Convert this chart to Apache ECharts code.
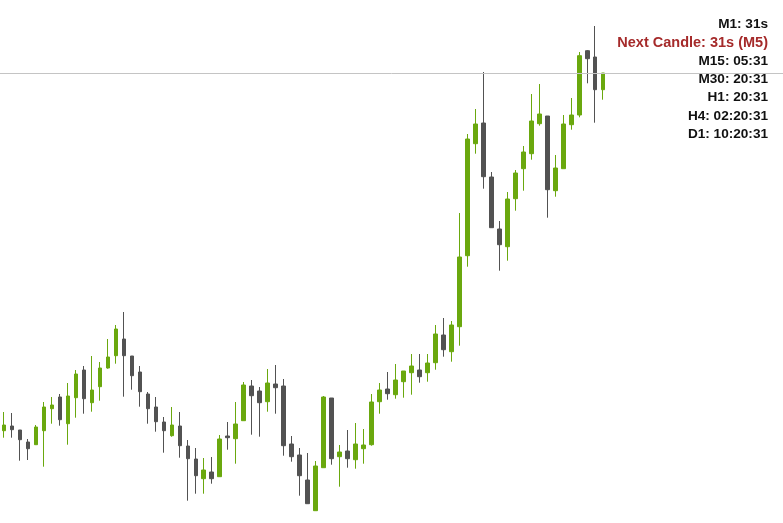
<!DOCTYPE html>
<html>
<head>
<meta charset="utf-8">
<script src="https://cdn.jsdelivr.net/npm/echarts@6/dist/echarts.min.js"></script>
<style>
html,body{margin:0;padding:0;background:#fff;}
#chart{width:783px;height:523px;}
</style>
</head>
<body>
<div id="chart"></div>
<script>
// OHLC values (price units)
const opens  = [92.3,97,93,81,78.3,92.3,114.3,126,99.3,125.3,153,120.3,136.3,155,167.3,184,167,151,129,116,101,87.3,97,77,64,44.3,51,46.3,87,84.3,102.3,137,132,121.3,139,137,79,68,43,12.3,55.3,125,66.3,72,63.3,74.3,78.3,121.3,134,128.3,141.3,150.3,153,150.3,160.3,188,171.3,196.3,267.3,379.3,400,346,294,276.3,324.3,354.3,369.3,399.3,407,332.3,354.3,398.3,408,472.3,466,433.3];
const closes = [98,93.3,83.3,74.3,96,116,118,103.3,127,149,124.3,133,155,166,194,167.3,147.3,131.3,114.3,101.3,92.3,98,77.3,64.3,47.3,53,44.3,84,85.3,99,138,127.3,120.3,140,135.3,77.3,66.3,47.3,19.3,57,126,64.3,71,64.3,79,78,121,133,129.3,143,152,157,146.3,160,189,173.3,198,266,384,399,346.3,295.3,278.3,324,350,371,402,409,333.3,355,399,408,467.3,464.3,433.3,450];
const lows   = [85.3,85.3,62.3,63,78.3,56.3,99.3,97.3,78.3,105.3,109.3,111.3,122.3,154.3,159.3,126.3,133.3,116.3,99.3,91.3,70.3,86.3,65.3,22.3,29.3,29.3,39.3,46.3,73.3,59.3,102.3,88.3,86.3,111.3,109.3,67.3,61.3,27.3,19.3,12.3,55.3,58.3,36.3,55.3,54.3,59.3,77.3,109.3,123.3,124.3,125.3,128.3,140.3,141.3,153.3,166.3,161.3,177.3,256.3,369.3,334.3,295.3,252.3,262.3,312.3,332.3,363.3,397.3,305.3,326.3,354.3,393.3,405.7,439.7,400.3,423.3];
const highs  = [111,110,93,84,98,121,126,129,140,153,157,167,161,184,198,211,167,157,131,126,106,116,111,83,75,65,66,88,101,121,141,143,136,154,158,144,87,75,70,62,127,125,78,93,100,94,129,140,151,159,152,169,169,169,198,205,202,310,389,414,451,351,302,331,353,377,429,439,407,368,408,425,471,473,497,450];

// visible slots on the time axis (bars plus empty space on the right)
const slotCount = 98;
const categories = [];
for (let i = 0; i < slotCount; i++) categories.push(String(i + 1));

const timerLabels = ['M1: 31s','Next Candle: 31s (M5)','M15: 05:31','M30: 20:31','H1: 20:31','H4: 02:20:31','D1: 10:20:31'];
const timerColors = ['#111111','#a52a2a','#111111','#111111','#111111','#111111','#111111'];
const timerSizes  = [13.6, 14.5, 13.6, 13.6, 13.6, 13.6, 13.6];

const ohlc = opens.map((o, i) => [o, closes[i], lows[i], highs[i]]);
const lastClose = closes[closes.length - 1];

const chart = echarts.init(document.getElementById('chart'), null, {renderer: 'canvas'});

const graphics = timerLabels.map((t, i) => ({
  type: 'text',
  x: 768,
  y: 24.5 + i * 18.25,
  silent: true,
  style: {
    text: t,
    fill: timerColors[i],
    font: 'bold ' + timerSizes[i] + 'px "Liberation Sans", Arial, sans-serif',
    textAlign: 'right',
    textVerticalAlign: 'middle'
  }
}));

chart.setOption({
  animation: false,
  backgroundColor: '#ffffff',
  grid: {left: 0, right: 0, top: 0, bottom: 0},
  xAxis: {
    type: 'category',
    data: categories,
    boundaryGap: true,
    show: false
  },
  yAxis: {
    type: 'value',
    min: 0,
    max: 523,
    show: false,
    splitLine: {show: false}
  },
  graphic: graphics,
  series: [{
    type: 'candlestick',
    data: ohlc,
    barWidth: 4,
    silent: true,
    itemStyle: {
      color: '#6aa80e',
      color0: '#525252',
      borderColor: '#6aa80e',
      borderColor0: '#525252',
      borderWidth: 1
    },
    markLine: {
      silent: true,
      symbol: ['none', 'none'],
      label: {show: false},
      lineStyle: {color: '#c4c4c4', width: 1, type: 'solid'},
      data: [{yAxis: lastClose}]
    }
  }]
});
</script>
</body>
</html>
